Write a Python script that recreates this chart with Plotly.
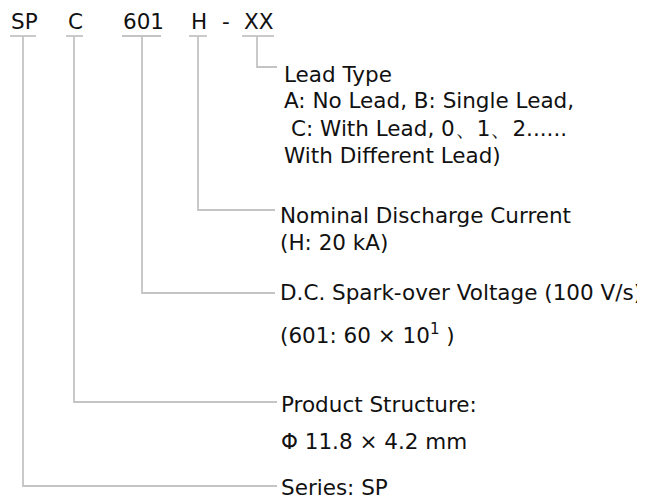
import plotly.graph_objects as go

# ---- content ----
code_parts = ["SP", "C", "601", "H", "-", "XX"]
descriptions = [
    ["Series: SP"],
    ["Product Structure:", "Φ 11.8 × 4.2 mm"],
    ["D.C. Spark-over Voltage (100 V/s)", "(601: 60 × 10<sup>1</sup> )"],
    ["Nominal Discharge Current", "(H: 20 kA)"],
    ["Lead Type", "A: No Lead, B: Single Lead,", "C: With Lead, 0、1、2......", "With Different Lead)"],
]

# ---- layout (pixel positions of the diagram, page coordinates) ----
W, H = 645, 500
PAGE_OFFSET = 8  # default body margin of the html page
code_x = [10, 67, 122, 190, 221, 243]
code_y = 21.5
underline_x0 = [10, 66, 122, 189, 242]
underline_x1 = [36, 83, 161, 207, 274]
underline_y = 36
stem_x = [23, 74, 142, 198, 257]
branch_y = [486, 402, 293, 210, 67]
branch_end = [277, 277, 275, 275, 277]
label_x = [[280], [280, 280], [279, 279], [279, 279], [283, 283, 290, 283]]
label_y = [[487], [404, 441], [292, 334], [215, 242.5], [74.7, 100, 128, 155.5]]

LINE = dict(color="#c4c4c4", width=1.8)
FONT = dict(family="DejaVu Sans", size=21.5, color="#111111")

fig = go.Figure()

# underlines below each code part
for x0, x1 in zip(underline_x0, underline_x1):
    fig.add_trace(go.Scatter(x=[x0, x1], y=[underline_y, underline_y], mode="lines",
                             line=LINE, hoverinfo="skip", showlegend=False))

# connectors: stem down, then branch to the right
for sx, by, bx in zip(stem_x, branch_y, branch_end):
    fig.add_trace(go.Scatter(x=[sx, sx, bx], y=[underline_y, by, by], mode="lines",
                             line=LINE, hoverinfo="skip", showlegend=False))

annotations = []
for txt, x in zip(code_parts, code_x):
    annotations.append(dict(x=x, y=code_y, text=txt, xref="x", yref="y",
                            xanchor="left", yanchor="middle", showarrow=False,
                            font=FONT, borderpad=0))
for lines, xs, ys in zip(descriptions, label_x, label_y):
    for txt, x, y in zip(lines, xs, ys):
        annotations.append(dict(x=x, y=y, text=txt, xref="x", yref="y",
                                xanchor="left", yanchor="middle", showarrow=False,
                                font=FONT, borderpad=0))

fig.update_layout(
    width=W, height=H,
    margin=dict(l=0, r=0, t=0, b=0),
    paper_bgcolor="white", plot_bgcolor="white",
    xaxis=dict(range=[PAGE_OFFSET, W + PAGE_OFFSET], visible=False, fixedrange=True),
    yaxis=dict(range=[H + PAGE_OFFSET, PAGE_OFFSET], visible=False, fixedrange=True),
    annotations=annotations,
    showlegend=False,
)

fig.write_html("out.html")
